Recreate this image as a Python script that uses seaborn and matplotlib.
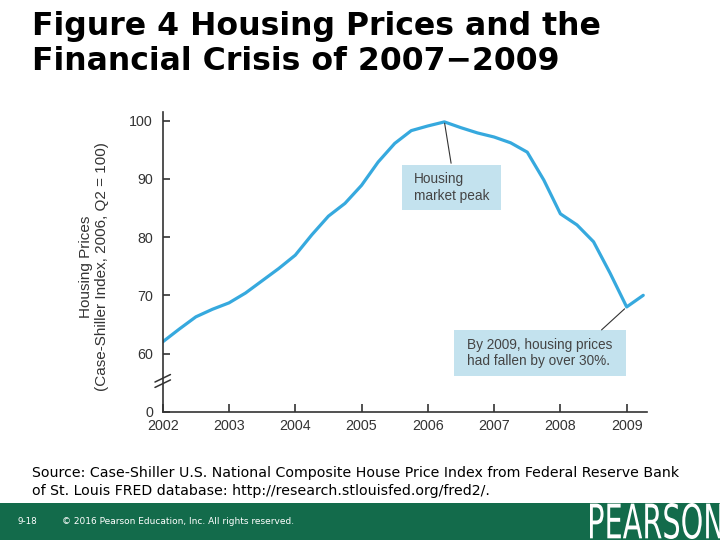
import matplotlib
matplotlib.use("Agg")
import matplotlib.pyplot as plt
import matplotlib.patches as mpatches
from matplotlib.textpath import TextPath
from matplotlib.font_manager import FontProperties
from matplotlib.transforms import Affine2D
import seaborn as sns
import pandas as pd

# ------------------------------------------------------------------
# Data (Case-Shiller national index, 2006 Q2 = 100, quarterly)
# ------------------------------------------------------------------
quarters = [2002.0, 2002.25, 2002.5, 2002.75,
            2003.0, 2003.25, 2003.5, 2003.75,
            2004.0, 2004.25, 2004.5, 2004.75,
            2005.0, 2005.25, 2005.5, 2005.75,
            2006.0, 2006.25, 2006.5, 2006.75,
            2007.0, 2007.25, 2007.5, 2007.75,
            2008.0, 2008.25, 2008.5, 2008.75,
            2009.0, 2009.25]
index_values = [62.0, 64.2, 66.3, 67.6,
                68.7, 70.4, 72.5, 74.6,
                76.9, 80.4, 83.6, 85.8,
                88.9, 92.9, 96.1, 98.3,
                99.1, 99.8, 98.8, 97.9,
                97.2, 96.2, 94.6, 89.8,
                84.0, 82.1, 79.2, 73.8,
                68.0, 70.0]
year_ticks = [2002, 2003, 2004, 2005, 2006, 2007, 2008, 2009]
# broken axis: position 50 stands in for 0
y_ticks = [50, 60, 70, 80, 90, 100]
y_tick_labels = ["0", "60", "70", "80", "90", "100"]

peak_point = (2006.25, 99.8)
trough_point = (2009.0, 68.0)

df = pd.DataFrame({"quarter": quarters, "index": index_values})

sns.set_style("ticks")
plt.rcParams["font.family"] = ["Liberation Sans", "DejaVu Sans"]

LINE = "#36a9de"
BOX = "#c3e2ee"
AXIS = "#333333"

fig = plt.figure(figsize=(7.2, 5.4), dpi=100)
ax = fig.add_axes([0.226, 0.2376, 0.672, 0.555])

sns.lineplot(data=df, x="quarter", y="index", ax=ax, color=LINE, linewidth=2.3)

ax.set_xlim(2002, 2009.3)
ax.set_ylim(50, 101.5)
ax.set_xticks(year_ticks)
ax.set_xticklabels([str(y) for y in year_ticks])
ax.set_yticks(y_ticks)
ax.set_yticklabels(y_tick_labels)
ax.set_xlabel("")
ax.set_ylabel("")
sns.despine(ax=ax)
for s in ("left", "bottom"):
    ax.spines[s].set_color(AXIS)
    ax.spines[s].set_linewidth(1.2)
ax.tick_params(axis="x", direction="in", length=6, width=1.2, color=AXIS,
               labelsize=10.3, labelcolor="#333333", pad=5)
ax.tick_params(axis="y", direction="in", length=5, width=1.2, color=AXIS,
               labelsize=10.3, labelcolor="#333333", pad=7)

# axis break marks
ax.plot([-0.015, 0.015], [0.085, 0.115], transform=ax.transAxes, color="white",
        lw=5, clip_on=False, solid_capstyle="butt")
for dy in (0.0, 0.018):
    ax.plot([-0.016, 0.016], [0.081 + dy, 0.106 + dy], transform=ax.transAxes,
            color=AXIS, lw=1.1, clip_on=False)

fig.text(94 / 720, 1 - 267 / 540,
         "Housing Prices\n(Case-Shiller Index, 2006, Q2 = 100)",
         rotation=90, ha="center", va="center", multialignment="center",
         fontsize=11, color="#333333", linespacing=1.2)

# annotation boxes
ax.add_patch(mpatches.Rectangle((0.494, 0.673), 0.206, 0.150, transform=ax.transAxes,
                                facecolor=BOX, edgecolor="none", zorder=1))
ax.text(0.519, 0.748, "Housing\nmarket peak", transform=ax.transAxes, ha="left",
        va="center", fontsize=9.8, color="#444444", linespacing=1.2, zorder=3)
ax.annotate("", xy=peak_point, xytext=(0.596, 0.829), textcoords="axes fraction",
            arrowprops=dict(arrowstyle="-", color=AXIS, lw=0.8, shrinkA=0, shrinkB=1))

ax.add_patch(mpatches.Rectangle((0.602, 0.119), 0.355, 0.154, transform=ax.transAxes,
                                facecolor=BOX, edgecolor="none", zorder=1))
ax.text(0.629, 0.196, "By 2009, housing prices\nhad fallen by over 30%.",
        transform=ax.transAxes, ha="left", va="center", fontsize=9.8,
        color="#444444", linespacing=1.2, zorder=3)
ax.annotate("", xy=trough_point, xytext=(0.907, 0.273), textcoords="axes fraction",
            arrowprops=dict(arrowstyle="-", color=AXIS, lw=0.8, shrinkA=0, shrinkB=2))

# slide title and source
fig.text(32 / 720, 1 - 11 / 540, "Figure 4 Housing Prices and the\nFinancial Crisis of 2007\u22122009",
         ha="left", va="top", fontsize=22.7, fontweight="bold", family="DejaVu Sans",
         linespacing=1.17, color="black")
fig.text(32 / 720, 1 - 466 / 540,
         "Source: Case-Shiller U.S. National Composite House Price Index from Federal Reserve Bank\n"
         "of St. Louis FRED database: http://research.stlouisfed.org/fred2/.",
         ha="left", va="top", fontsize=10.2, family="DejaVu Sans", linespacing=1.38,
         color="black")

# footer band
fig.patches.append(mpatches.Rectangle((0, 0), 1, 37 / 540, transform=fig.transFigure,
                                      facecolor="#136b4b", edgecolor="none", zorder=0))
fig.text(18 / 720, 19 / 540, "9-18", ha="left", va="center", fontsize=6.3,
         family="DejaVu Sans", color="white")
fig.text(62 / 720, 19 / 540, "\u00a9 2016 Pearson Education, Inc. All rights reserved.",
         ha="left", va="center", fontsize=6.5, family="DejaVu Sans", color="white")

# PEARSON wordmark, squeezed to fit the corner
tp = TextPath((0, 0), "PEARSON", size=10, prop=FontProperties(family="DejaVu Sans"))
ext = tp.get_extents()
x0, x1, y0, y1 = 590, 722, 1, 37
sx = (x1 - x0) / ext.width
sy = (y1 - y0) / ext.height
tr = (Affine2D().translate(-ext.x0, -ext.y0).scale(sx, sy).translate(x0, y0)
      .scale(1 / 720, 1 / 540) + fig.transFigure)
fig.patches.append(mpatches.PathPatch(tp, transform=tr, facecolor="white",
                                      edgecolor="none", zorder=1))

fig.savefig("out.png", dpi=100)
